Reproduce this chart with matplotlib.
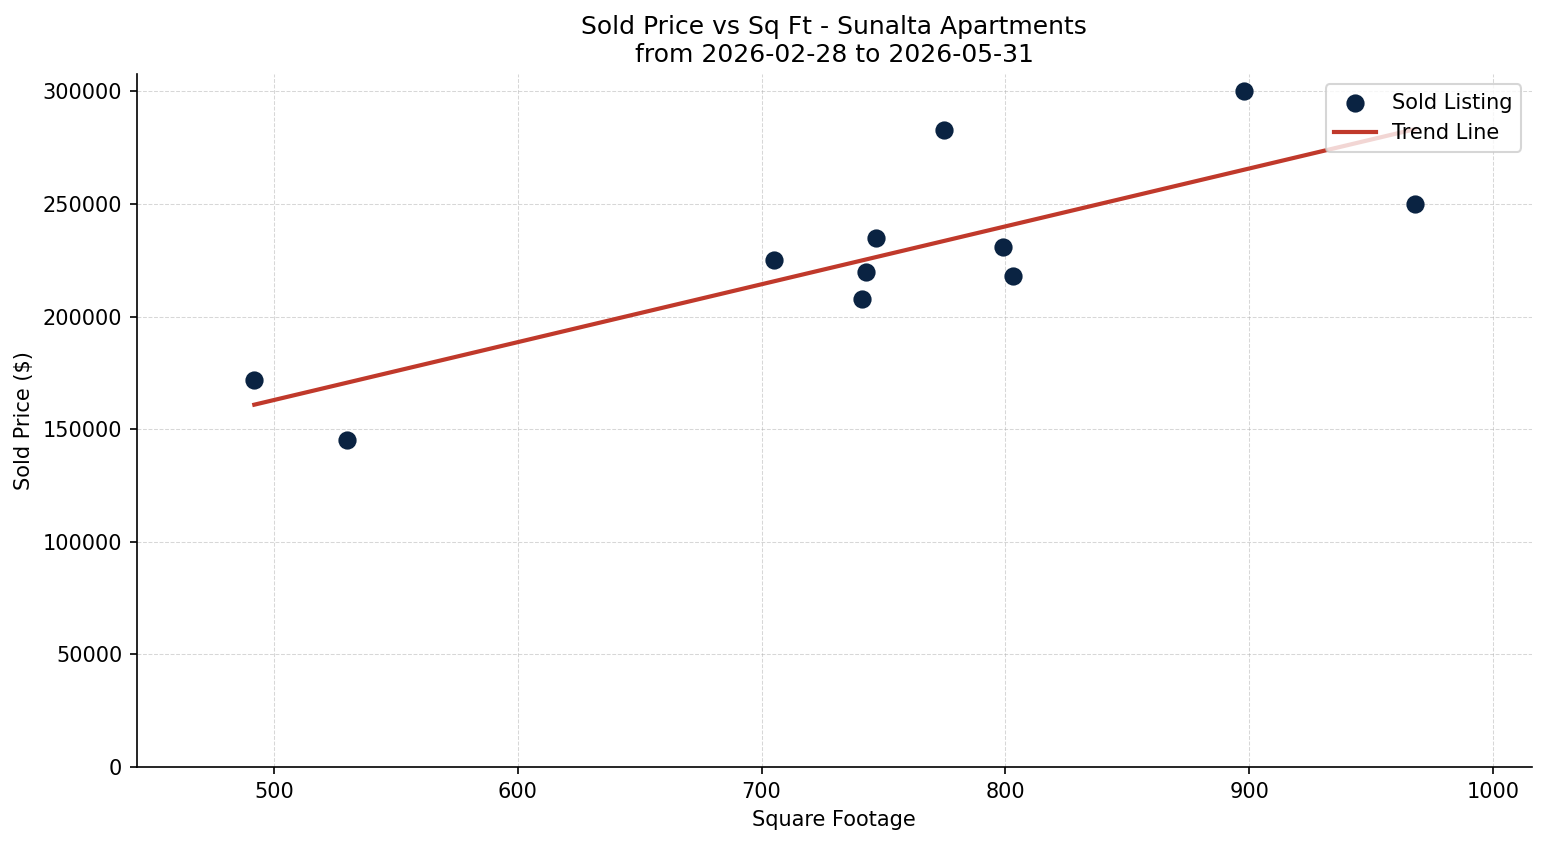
import numpy as np
import matplotlib
matplotlib.use("Agg")
import matplotlib.pyplot as plt

# ===== dados =====
sqft = [492, 530, 705, 741, 743, 747, 775, 799, 803, 898, 968]
price = [172000, 145000, 225000, 208000, 220000, 235000, 283000, 231000, 218000, 300000, 250000]

title = "Sold Price vs Sq Ft - Sunalta Apartments\nfrom 2026-02-28 to 2026-05-31"

x = np.array(sqft)
y = np.array(price)

fig = plt.figure(figsize=(1547 / 150, 845 / 150), dpi=150)
ax = fig.add_axes([0.0884, 0.0923, 0.9017, 0.8201])

ax.scatter(x, y, s=60, color="#0a2342", label="Sold Listing", zorder=3)

# linha de tendencia (ajuste linear)
m, b = np.polyfit(x, y, 1)
xs = np.array([x.min(), x.max()])
ax.plot(xs, m * xs + b, color="#c0392b", linewidth=2, label="Trend Line", zorder=2)

ax.set_title(title, fontsize=12)
ax.set_xlabel("Square Footage")
ax.set_ylabel("Sold Price ($)")
ax.set_xlim(443.8, 1015.8)
ax.set_ylim(bottom=0)
ax.grid(True, linestyle="--", linewidth=0.5, alpha=0.5)
ax.spines["top"].set_visible(False)
ax.spines["right"].set_visible(False)
ax.legend(loc="upper right")

fig.savefig("out.png", dpi=150)
